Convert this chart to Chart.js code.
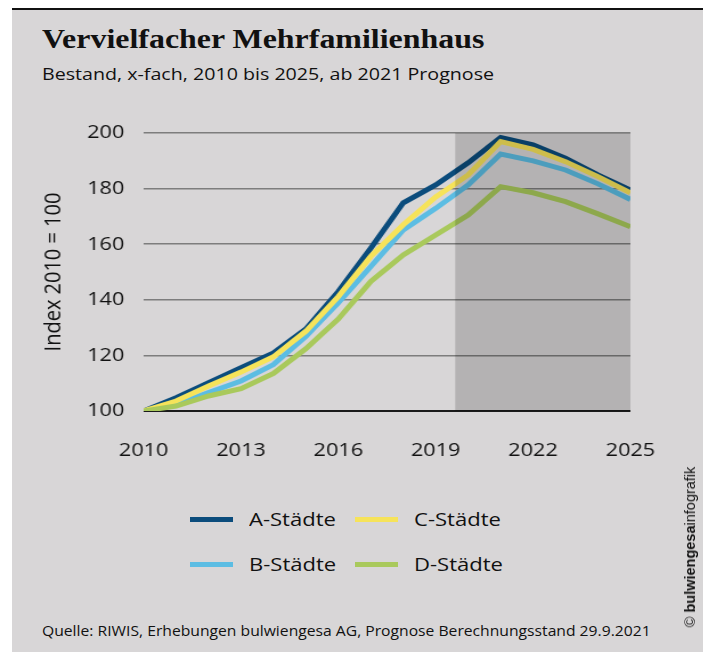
<!DOCTYPE html>
<html lang="de">
<head>
<meta charset="utf-8">
<script src="https://cdn.jsdelivr.net/npm/chart.js@4.4.0/dist/chart.umd.min.js"></script>
<style>
  html, body { margin:0; padding:0; background:#fff; }
  #page { position:relative; width:709px; height:652px; overflow:hidden; }
  #panel { position:absolute; left:12px; top:8px; width:691px; height:644px; background:#d8d6d7; border-top:2px solid #111; }
  .wide { transform-origin:0 0; white-space:nowrap; color:#111; }
  #title { position:absolute; left:42px; top:23px; font-family:"Liberation Serif", serif; font-weight:bold; font-size:28px; transform:scaleX(1.14); }
  #subtitle { position:absolute; left:42px; top:62px; font-family:"Open Sans", sans-serif; font-size:17px; transform:scaleX(1.155); }
  /* the original graphic is set a bit wide, so the chart is stretched the same way */
  #chartWrap { position:absolute; left:0; top:0; width:622px; height:480px; transform:scaleX(1.14); transform-origin:0 0; }
  #legend { position:absolute; left:190px; top:505px; display:grid; grid-template-columns:165px 165px; row-gap:17px; font-family:"Open Sans", sans-serif; font-size:19px; color:#111; }
  #legend .item { display:flex; align-items:center; height:28px; }
  #legend .sw { width:43px; height:5px; margin-right:16px; flex:none; }
  #legend .lbl { display:inline-block; transform:scaleX(1.16); transform-origin:0 50%; white-space:nowrap; }
  #source { position:absolute; left:42px; top:621px; font-family:"Open Sans", sans-serif; font-size:14px; transform:scaleX(1.12); }
  #credit { position:absolute; left:690px; top:547px; transform:translate(-50%,-50%) rotate(-90deg); font-family:"Liberation Sans", Arial, sans-serif; font-size:14.5px; color:#111; white-space:nowrap; }
</style>
</head>
<body>
<div id="page">
  <div id="panel"></div>
  <div id="title" class="wide">Vervielfacher Mehrfamilienhaus</div>
  <div id="subtitle" class="wide">Bestand, x-fach, 2010 bis 2025, ab 2021 Prognose</div>
  <div id="chartWrap"><canvas id="chart" width="622" height="480"></canvas></div>
  <div id="legend"></div>
  <div id="source" class="wide">Quelle: RIWIS, Erhebungen bulwiengesa AG, Prognose Berechnungsstand 29.9.2021</div>
  <div id="credit">© <b>bulwiengesa</b>infografik</div>
</div>
<script>
const years = [2010,2011,2012,2013,2014,2015,2016,2017,2018,2019,2020,2021,2022,2023,2024,2025];
const aStaedte = [100,104.8,110.2,115.6,120.9,129.5,143.0,158.6,174.9,181.3,189.3,198.4,195.7,190.9,184.9,179.5];
const bStaedte = [100,102.4,106.6,110.8,116.7,126.9,139.0,152.0,165.1,172.9,181.3,192.4,190.0,186.7,181.7,176.1];
const cStaedte = [100,103.6,109.0,114.0,119.5,128.7,141.2,155.6,167.0,177.0,184.9,196.9,194.1,189.7,184.3,178.5];
const dStaedte = [100,101.8,105.4,108.0,113.5,122.4,133.1,146.6,156.1,163.3,170.5,180.7,178.5,175.3,170.9,166.3];
const yTicks = [100,120,140,160,180,200];
const xTicks = [2010,2013,2016,2019,2022,2025];
const forecastFrom = 2019.6; // grey box start

const pts = arr => arr.map((v,i)=>({ x: years[i], y: v }));

// shaded forecast box, drawn over lines like in the print version
const shadePlugin = {
  id:'shade',
  afterDatasetsDraw(chart){
    const {ctx, chartArea, scales:{x}} = chart;
    const x0 = x.getPixelForValue(forecastFrom);
    ctx.save();
    ctx.fillStyle = 'rgba(0,0,0,0.165)';
    ctx.fillRect(x0, chartArea.top, chartArea.right - x0, chartArea.bottom - chartArea.top);
    ctx.restore();
  }
};

const ds = [
  { label:'A-Städte', data: pts(aStaedte), borderColor:'#0b4c7c', order:3 },
  { label:'B-Städte', data: pts(bStaedte), borderColor:'#5cbde3', order:2 },
  { label:'C-Städte', data: pts(cStaedte), borderColor:'#f6e35a', order:1 },
  { label:'D-Städte', data: pts(dStaedte), borderColor:'#a9c95c', order:0 }
].map(d=>Object.assign(d, { borderWidth:5, pointRadius:0, tension:0, fill:false }));

const chart = new Chart(document.getElementById('chart'), {
  type:'line',
  data:{ datasets: ds },
  options:{
    responsive:false,
    animation:false,
    layout:{ padding:{ left:31, right:69, top:133, bottom:19 } },
    plugins:{ legend:{ display:false }, tooltip:{ enabled:false } },
    scales:{
      x:{
        type:'linear', min:2010, max:2025,
        afterFit: s=>{ s.height = 50; },
        afterBuildTicks: s=>{ s.ticks = xTicks.map(v=>({ value:v })); },
        grid:{ display:false },
        border:{ display:false },
        ticks:{ padding:20, color:'#111', font:{ family:'Open Sans', size:19 }, callback:v=>String(v), maxRotation:0 }
      },
      y:{
        min:100, max:200,
        afterFit: s=>{ s.width = 95; },
        afterBuildTicks: s=>{ s.ticks = yTicks.map(v=>({ value:v })); },
        grid:{ drawTicks:false, lineWidth: c=> c.tick.value===100 ? 2 : 1.5, color: c=> c.tick.value===100 ? '#1a1a1a' : '#7d7d7d' },
        border:{ display:false },
        ticks:{ padding:17, color:'#111', font:{ family:'Open Sans', size:19 } },
        title:{ display:true, text:'Index 2010 = 100', color:'#111', font:{ family:'Open Sans', size:20 } }
      }
    }
  },
  plugins:[shadePlugin]
});

// legend as html, two columns (A/B left, C/D right)
const legendEl = document.getElementById('legend');
[0,2,1,3].forEach(i=>{
  const d = chart.data.datasets[i];
  const it = document.createElement('div');
  it.className = 'item';
  it.innerHTML = `<span class="sw" style="background:${d.borderColor}"></span><span class="lbl">${d.label}</span>`;
  legendEl.appendChild(it);
});
</script>
</body>
</html>
